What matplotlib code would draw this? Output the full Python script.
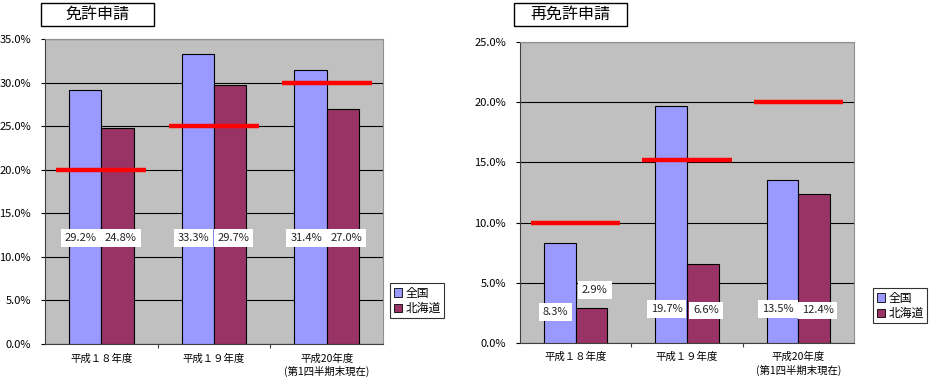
import matplotlib
matplotlib.use("Agg")
import matplotlib.pyplot as plt
from matplotlib.patches import Rectangle, Patch
import numpy as np

plt.rcParams['font.family'] = ['Noto Sans CJK JP', 'DejaVu Sans']

categories = ['平成１８年度', '平成１９年度', '平成20年度\n(第1四半期末現在)']
series_names = ['全国', '北海道']

lic_national = [29.2, 33.3, 31.4]
lic_hokkaido = [24.8, 29.7, 27.0]
lic_target = [20.0, 25.0, 30.0]
lic_label_y = [[12.2, 12.2, 12.2], [12.2, 12.2, 12.2]]

relic_national = [8.3, 19.7, 13.5]
relic_hokkaido = [2.9, 6.6, 12.4]
relic_target = [10.0, 15.2, 20.0]
relic_label_y = [[2.6, 2.8, 2.8], [4.4, 2.7, 2.7]]

colors = ['#9999FF', '#993366']
bg = '#C0C0C0'

W, H = 930, 381
fig = plt.figure(figsize=(W / 100, H / 100), dpi=100)
fig.patch.set_facecolor('white')


def ax_rect(x0, y0, x1, y1):
    return [x0 / W, 1 - y1 / H, (x1 - x0) / W, (y1 - y0) / H]


def draw(ax, nat, hok, target, label_y, ymax, title, title_box, legend_pos):
    ax.set_facecolor(bg)
    n = len(categories)
    x = np.arange(n) + 0.5
    bw = 1 / 3.5
    ax.bar(x - bw / 2, nat, width=bw, color=colors[0], edgecolor='black', linewidth=0.8, zorder=3)
    ax.bar(x + bw / 2, hok, width=bw, color=colors[1], edgecolor='black', linewidth=0.8, zorder=3)
    for i in range(n):
        ax.plot([x[i] - 0.4, x[i] + 0.4], [target[i], target[i]], color='#FF0000',
                linewidth=3.2, solid_capstyle='butt', zorder=4)
    for i in range(n):
        for j, vals in enumerate([nat, hok]):
            xc = x[i] + (j - 0.5) * bw + (-0.04 if j == 0 else 0.03)
            ax.text(xc, label_y[j][i], f'{vals[i]:.1f}%', ha='center', va='center',
                    fontsize=8, color='#222222', zorder=5,
                    bbox=dict(boxstyle='square,pad=0.35', fc='white', ec='none'))
    ax.set_xlim(0, n)
    ax.set_ylim(0, ymax)
    ticks = np.arange(0, ymax + 0.01, 5)
    ax.set_yticks(ticks)
    ax.set_yticklabels([f'{t:.1f}%' for t in ticks], fontsize=8)
    ax.yaxis.grid(True, color='black', linewidth=0.8, zorder=1)
    ax.set_axisbelow(True)
    ax.set_xticks([1, 2])
    ax.set_xticklabels([])
    ax.tick_params(axis='x', length=3, direction='out', color='#404040')
    ax.tick_params(axis='y', length=3, direction='out', pad=7)
    for i in range(n):
        ax.text(x[i], -0.03, categories[i], transform=ax.get_xaxis_transform(),
                ha='center', va='top', fontsize=7.5, linespacing=1.25)
    for s in ['top', 'right']:
        ax.spines[s].set_color('#909090')
    for s in ['left', 'bottom']:
        ax.spines[s].set_color('#404040')
    # title box
    x0, y0, x1, y1 = title_box
    fig.patches.append(Rectangle((x0 / W, 1 - y1 / H), (x1 - x0) / W, (y1 - y0) / H,
                                 transform=fig.transFigure, fc='white', ec='black', lw=1))
    fig.text((x0 + x1) / 2 / W, 1 - (y0 + y1) / 2 / H, title, ha='center', va='center', fontsize=11.5)
    handles = [Patch(fc=colors[0], ec='black', lw=0.6), Patch(fc=colors[1], ec='black', lw=0.6)]
    leg = ax.legend(handles, series_names, loc='upper left',
                    bbox_to_anchor=(legend_pos[0] / W, 1 - legend_pos[1] / H),
                    bbox_transform=fig.transFigure, fontsize=8.5, frameon=True, fancybox=False,
                    edgecolor='black', handlelength=0.7, handleheight=0.7, handletextpad=0.3,
                    borderpad=0.3, labelspacing=0.2, borderaxespad=0)
    leg.get_frame().set_linewidth(0.8)


ax1 = fig.add_axes(ax_rect(45, 39, 383, 344))
draw(ax1, lic_national, lic_hokkaido, lic_target, lic_label_y, 35, '免許申請',
     (41, 3, 154, 26), (390, 283))

ax2 = fig.add_axes(ax_rect(520, 42, 854, 343))
draw(ax2, relic_national, relic_hokkaido, relic_target, relic_label_y, 25, '再免許申請',
     (514, 3, 627, 26), (873, 288))

fig.savefig('out.png', dpi=100, facecolor='white')
